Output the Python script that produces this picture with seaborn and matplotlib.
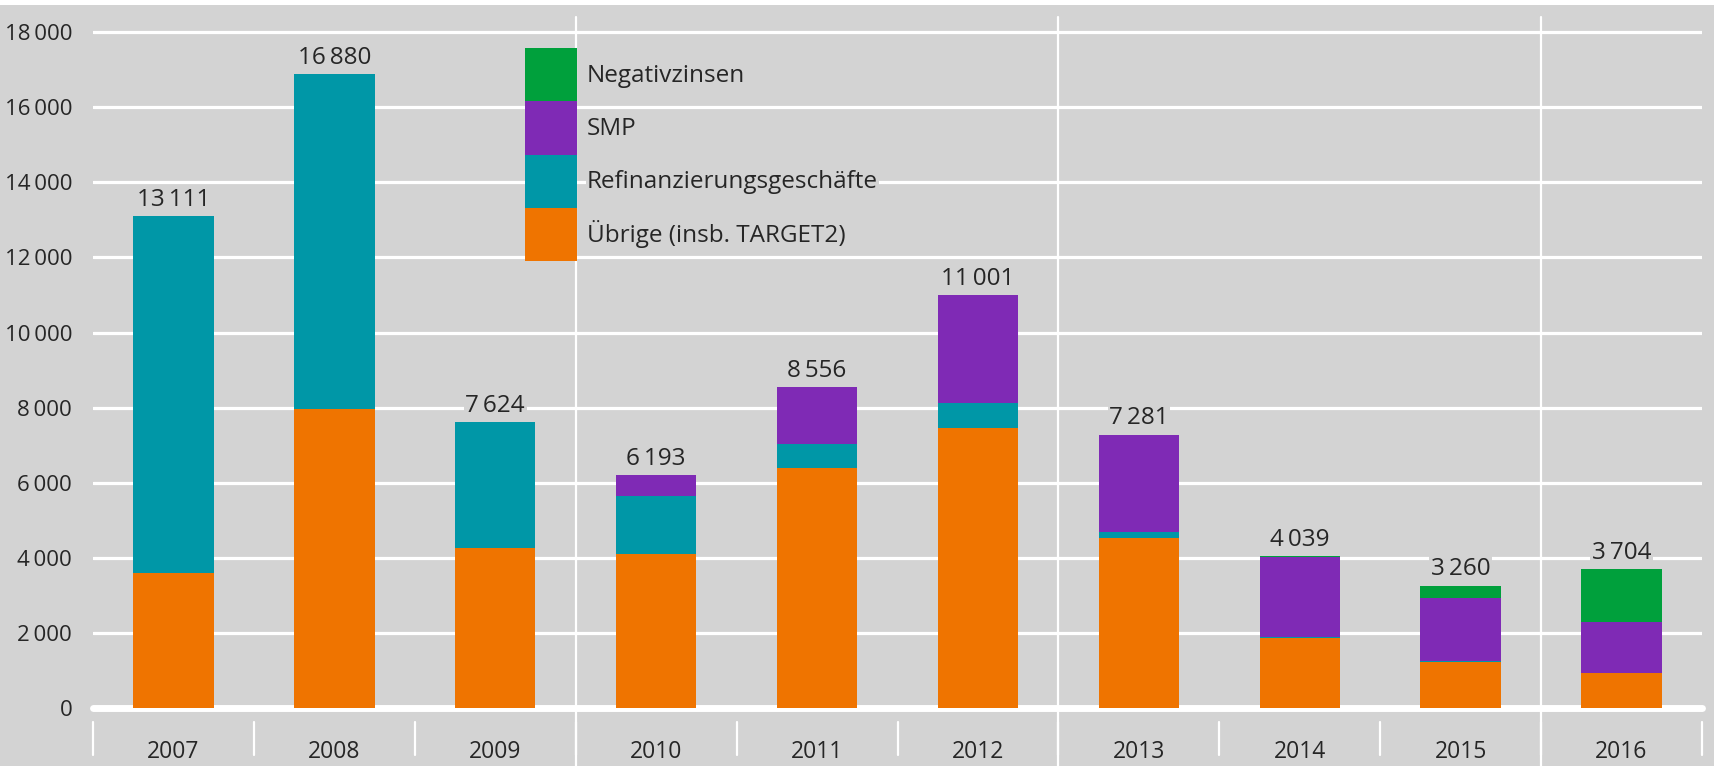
import matplotlib
matplotlib.use("Agg")
import matplotlib.pyplot as plt
from matplotlib.patches import Patch, Rectangle
from matplotlib.ticker import FuncFormatter
import seaborn as sns

# Daten (Mio EUR)
jahre = ["2007", "2008", "2009", "2010", "2011", "2012", "2013", "2014", "2015", "2016"]
uebrige = [3590, 7950, 4250, 4100, 6400, 7460, 4530, 1860, 1230, 940]
refi = [9521, 8930, 3374, 1550, 620, 650, 150, 40, 30, 0]
smp = [0, 0, 0, 543, 1536, 2891, 2601, 2110, 1660, 1360]
negativ = [0, 0, 0, 0, 0, 0, 0, 29, 340, 1404]
y_ticks = [0, 2000, 4000, 6000, 8000, 10000, 12000, 14000, 16000, 18000]

GRAU = "#d3d3d3"
TEXT = "#262626"
farben = {
    "Negativzinsen": "#00a03c",
    "SMP": "#7f2ab5",
    "Refinanzierungsgeschäfte": "#0097a7",
    "Übrige (insb. TARGET2)": "#ef7400",
}

sns.set_theme(style="white")
plt.rcParams["font.family"] = ["Open Sans", "DejaVu Sans"]


def tsd(v, pos=None):
    return f"{int(v):,}".replace(",", "\u2009")


# kumulierte Werte fuer gestapelte Balken
stufe1 = uebrige
stufe2 = [a + b for a, b in zip(stufe1, refi)]
stufe3 = [a + b for a, b in zip(stufe2, smp)]
gesamt = [a + b for a, b in zip(stufe3, negativ)]

fig = plt.figure(figsize=(17.15, 7.66), dpi=100, facecolor=GRAU)
H = 766
ax_bottom = (H - 708) / H
ax_top = (H - 5) / H
ax = fig.add_axes([93 / 1715, ax_bottom, (1702 - 93) / 1715, ax_top - ax_bottom])
ax.set_facecolor(GRAU)

for werte, name in [(gesamt, "Negativzinsen"), (stufe3, "SMP"),
                    (stufe2, "Refinanzierungsgeschäfte"), (stufe1, "Übrige (insb. TARGET2)")]:
    sns.barplot(x=jahre, y=werte, color=farben[name], saturation=1, width=0.5,
                ax=ax, zorder=3, linewidth=0)

ymax = (708 - 5) / 37.55 * 1000
ax.set_xlim(-0.5, len(jahre) - 0.5)
ax.set_ylim(0, ymax)
ax.set_xlabel("")
ax.set_ylabel("")
for s in ax.spines.values():
    s.set_visible(False)

# Gitter
ax.set_yticks(y_ticks)
ax.yaxis.set_major_formatter(FuncFormatter(tsd))
ax.grid(axis="y", color="white", linewidth=2.3, zorder=1)
ax.grid(axis="x", visible=False)
ax.axhline(0, color="white", linewidth=5, zorder=2, clip_on=False)
ax.tick_params(axis="y", length=0, pad=15, labelsize=16, labelcolor=TEXT)
ax.tick_params(axis="x", length=0, pad=23, labelsize=16.5, labelcolor=TEXT)

# Trennlinien
hoehe = 703
for i in range(len(jahre) + 1):
    x = i - 0.5
    ax.axvline(x, ymin=-(755 - 708) / hoehe, ymax=-(722 - 708) / hoehe,
               color="white", linewidth=1.6, clip_on=False, zorder=1)
for x in [2.5, 5.5, 8.5]:
    ax.axvline(x, ymin=-(766 - 708) / hoehe, ymax=(708 - 17) / hoehe,
               color="white", linewidth=1.6, clip_on=False, zorder=1)

# Summenbeschriftung
for i, v in enumerate(gesamt):
    ax.annotate(tsd(v), (i, v), xytext=(0, 3), textcoords="offset points",
                ha="center", va="bottom", fontsize=17.5, color=TEXT, zorder=4,
                bbox=dict(facecolor=GRAU, edgecolor="none", pad=1))

# Legende
handles = [Patch(facecolor=c, edgecolor="none", label=n) for n, c in farben.items()]
leg = ax.legend(handles=handles, loc="upper left",
                bbox_to_anchor=((525 - 93) / (1702 - 93), (708 - 48) / hoehe),
                frameon=False, fontsize=17.5, labelspacing=0, handlelength=2.15,
                handleheight=3.0, handletextpad=0.4, borderpad=0, borderaxespad=0)
leg.set_zorder(6)
for t in leg.get_texts():
    t.set_color(TEXT)
    t.set_bbox(dict(facecolor=GRAU, edgecolor="none", pad=1))

fig.add_artist(Rectangle((0, 1 - 5 / H), 1, 5 / H, transform=fig.transFigure,
                         facecolor="white", edgecolor="none"))

fig.savefig("out.png", dpi=100, facecolor=GRAU)
